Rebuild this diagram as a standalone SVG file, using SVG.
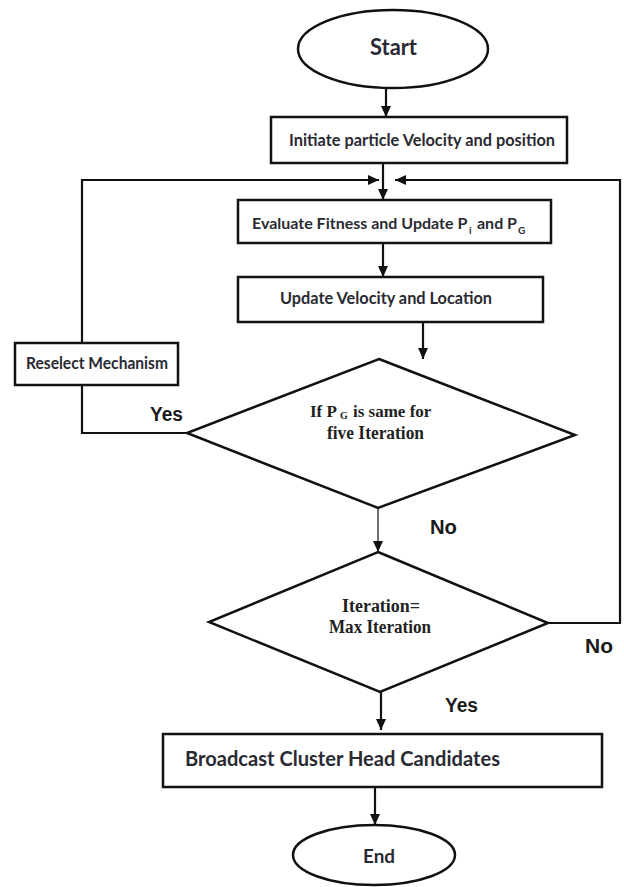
<svg xmlns="http://www.w3.org/2000/svg" width="624" height="887" viewBox="0 0 624 887">
<defs>
<style>
.shape{fill:#fff;stroke:#111;stroke-width:2.5}
.conn{fill:none;stroke:#111;stroke-width:2.2}
.thin{fill:none;stroke:#222;stroke-width:1.3}
.cal{font-family:Lato,"Liberation Sans",sans-serif;font-weight:bold;fill:#2a2a33}
.ari{font-family:"Liberation Sans",Arial,sans-serif;font-weight:bold;fill:#1a1a1a}
.ser{font-family:"Liberation Serif","Times New Roman",serif;font-weight:bold;fill:#222}
</style>
<marker id="arr" markerUnits="userSpaceOnUse" markerWidth="12" markerHeight="10" refX="11" refY="5" orient="auto">
<path d="M0,0 L11,5 L0,10 Z" fill="#111"/>
</marker>
</defs>
<rect width="624" height="887" fill="#fff"/>

<g id="connectors">
<line class="conn" x1="386" y1="88" x2="386" y2="117" marker-end="url(#arr)"/>
<line class="conn" x1="383" y1="163" x2="383" y2="200" marker-end="url(#arr)"/>
<polyline class="conn" points="187,433 82,433 82,385"/>
<polyline class="conn" points="82,343 82,180 379,180" marker-end="url(#arr)"/>
<polyline class="conn" points="548,623 620,623 620,180 395,180" marker-end="url(#arr)"/>
<line class="conn" x1="383" y1="243" x2="383" y2="277" marker-end="url(#arr)"/>
<line class="conn" x1="423" y1="322" x2="423" y2="359" marker-end="url(#arr)"/>
<line class="thin" x1="378" y1="508" x2="378" y2="552" marker-end="url(#arr)"/>
<line class="conn" x1="381" y1="692" x2="381" y2="730" marker-end="url(#arr)"/>
<line class="conn" x1="375" y1="787" x2="375" y2="825" marker-end="url(#arr)"/>
<text class="ari" x="150" y="421" font-size="20" textLength="33" lengthAdjust="spacingAndGlyphs">Yes</text>
<text class="ari" x="430" y="534" font-size="20" textLength="27" lengthAdjust="spacingAndGlyphs">No</text>
<text class="ari" x="585" y="653" font-size="20" textLength="28" lengthAdjust="spacingAndGlyphs">No</text>
<text class="ari" x="445" y="712" font-size="20" textLength="33" lengthAdjust="spacingAndGlyphs">Yes</text>
</g>

<g id="start">
<ellipse class="shape" cx="393" cy="49" rx="95" ry="39"/>
<text class="cal" x="370" y="55" font-size="22" textLength="47" lengthAdjust="spacingAndGlyphs">Start</text>
</g>

<g id="init">
<rect class="shape" x="271" y="117" width="296" height="46"/>
<text class="cal" x="289" y="146" font-size="17" textLength="266" lengthAdjust="spacingAndGlyphs">Initiate particle Velocity and position</text>
</g>

<g id="evaluate">
<rect class="shape" x="238" y="200" width="313" height="43"/>
<text class="cal" x="252" y="229" font-size="16">Evaluate Fitness and Update P</text>
<text class="cal" x="469" y="234" font-size="10">i</text>
<text class="cal" x="477" y="229" font-size="16">and P</text>
<text class="cal" x="518" y="234" font-size="10">G</text>
</g>

<g id="update">
<rect class="shape" x="238" y="277" width="305" height="45"/>
<text class="cal" x="280" y="304" font-size="17" textLength="212" lengthAdjust="spacingAndGlyphs">Update Velocity and Location</text>
</g>

<g id="reselect">
<rect class="shape" x="15" y="343" width="163" height="42"/>
<text class="cal" x="26" y="369" font-size="17" textLength="142" lengthAdjust="spacingAndGlyphs">Reselect Mechanism</text>
</g>

<g id="decision1">
<polygon class="shape" points="379,359 575,435 378,508 187,433"/>
<text class="ser" x="310" y="417" font-size="17">If P</text>
<text class="ser" x="340" y="419" font-size="10">G</text>
<text class="ser" x="353" y="417" font-size="17">is same for</text>
<text class="ser" x="327" y="439" font-size="18" textLength="97" lengthAdjust="spacingAndGlyphs">five Iteration</text>
</g>

<g id="decision2">
<polygon class="shape" points="378,552 548,623 380,692 209,622"/>
<text class="ser" x="342" y="612" font-size="18" textLength="78" lengthAdjust="spacingAndGlyphs">Iteration=</text>
<text class="ser" x="329" y="633" font-size="18" textLength="102" lengthAdjust="spacingAndGlyphs">Max Iteration</text>
</g>

<g id="broadcast">
<rect class="shape" x="163" y="734" width="439" height="53"/>
<text class="cal" x="185" y="766" font-size="20" textLength="315" lengthAdjust="spacingAndGlyphs">Broadcast Cluster Head Candidates</text>
</g>

<g id="end">
<ellipse class="shape" cx="374" cy="855" rx="81" ry="30"/>
<text class="cal" x="363" y="863" font-size="19" textLength="32" lengthAdjust="spacingAndGlyphs">End</text>
</g>
</svg>
